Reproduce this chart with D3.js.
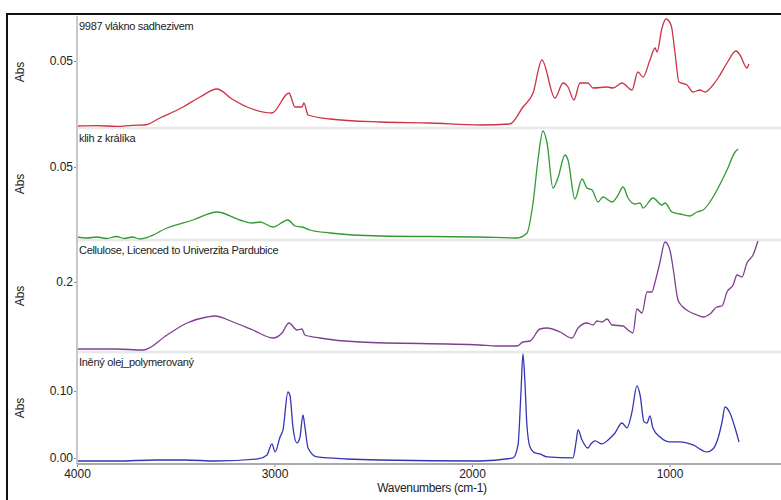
<!DOCTYPE html>
<html lang="cs">
<head>
  <meta charset="UTF-8">
  <title>FTIR spektra</title>
  <script src="https://d3js.org/d3.v7.min.js"></script>
  <style>
    body { margin: 0; background: #fff; font-family: "Liberation Sans", Arial, sans-serif; }
    .tick text { font-size: 12px; fill: #222; }
  </style>
</head>
<body>
  <div id="chart"></div>

  <script>
    // [wavenumber cm-1, Abs]
    const vlakno = [
      [4000,0.0305],[3900,0.0306],[3800,0.0304],[3720,0.0307],[3656,0.0308],[3580,0.0329],[3463,0.0362],
      [3377,0.0392],[3291,0.0416],[3215,0.0386],[3139,0.0362],[3013,0.0344],[2927,0.0404],[2896,0.0362],
      [2861,0.0362],[2851,0.0374],[2830,0.0338],[2719,0.0326],[2466,0.0317],[2213,0.0314],[1960,0.0308],
      [1808,0.0311],[1742,0.0362],[1691,0.0404],[1646,0.0503],[1580,0.0389],[1539,0.0434],[1514,0.0422],
      [1484,0.0383],[1453,0.0434],[1413,0.0434],[1387,0.0419],[1316,0.0422],[1286,0.0419],[1241,0.0434],
      [1190,0.0413],[1160,0.0467],[1134,0.0452],[1099,0.0503],[1073,0.0539],[1063,0.0527],[1038,0.0599],
      [1018,0.0626],[992,0.0608],[972,0.0524],[952,0.0437],[911,0.0428],[881,0.0407],[846,0.0413],
      [820,0.0407],[780,0.0428],[754,0.0449],[709,0.0494],[663,0.053],[643,0.0518],[608,0.0479],[598,0.0491]
    ];
    const klih = [
      [4000,0.022],[3950,0.0216],[3900,0.022],[3850,0.0214],[3800,0.0222],[3760,0.0214],[3720,0.022],
      [3680,0.0212],[3646,0.0218],[3544,0.0256],[3413,0.0288],
      [3291,0.032],[3175,0.0288],[3114,0.0276],[3073,0.028],[3008,0.026],[2932,0.0288],[2896,0.0264],
      [2861,0.026],[2820,0.0248],[2719,0.0236],[2466,0.0224],[1960,0.022],[1772,0.0216],[1722,0.0236],
      [1691,0.0356],[1666,0.0528],[1641,0.0644],[1620,0.0596],[1590,0.0416],[1565,0.0456],[1529,0.0548],
      [1514,0.0528],[1479,0.0372],[1443,0.0452],[1418,0.0416],[1392,0.0408],[1362,0.036],[1337,0.038],
      [1291,0.036],[1266,0.038],[1235,0.042],[1210,0.0376],[1175,0.0352],[1149,0.0356],[1134,0.0336],
      [1084,0.0376],[1038,0.0348],[1023,0.0356],[987,0.032],[947,0.0312],[896,0.0304],[861,0.032],
      [830,0.0328],[795,0.036],[754,0.0416],[709,0.0488],[668,0.056],[653,0.0572]
    ];
    const celuloza = [
      [4000,0.066],[3800,0.066],[3666,0.064],[3544,0.094],[3443,0.118],[3342,0.13],[3301,0.132],
      [3210,0.12],[3109,0.104],[3008,0.088],[2962,0.098],[2927,0.118],[2886,0.104],[2861,0.106],
      [2846,0.094],[2770,0.088],[2567,0.08],[1960,0.074],[1873,0.072],[1772,0.072],[1742,0.08],
      [1706,0.082],[1656,0.106],[1620,0.108],[1554,0.1],[1494,0.088],[1463,0.108],[1418,0.118],
      [1387,0.114],[1367,0.122],[1342,0.12],[1316,0.126],[1291,0.114],[1235,0.112],[1210,0.104],
      [1185,0.098],[1165,0.146],[1139,0.138],[1114,0.18],[1089,0.18],[1073,0.2],[1048,0.24],
      [1023,0.28],[998,0.264],[982,0.228],[957,0.164],[937,0.152],[896,0.14],[861,0.134],[830,0.13],
      [795,0.136],[760,0.15],[734,0.152],[709,0.18],[678,0.194],[658,0.214],[633,0.21],[608,0.238],
      [577,0.254],[552,0.282]
    ];
    const olej = [
      [4000,-0.0045],[3800,-0.0045],[3600,-0.003],[3450,-0.003],[3300,-0.0045],[3084,-0.0015],
      [3038,0.0045],[3013,0.0209],[2997,0.009],[2972,0.0313],[2957,0.0418],[2932,0.0985],[2922,0.094],
      [2906,0.0448],[2886,0.0224],[2871,0.0313],[2856,0.0642],[2846,0.0463],[2830,0.0149],[2785,0.0015],
      [2633,-0.0015],[2466,-0.003],[1960,-0.0045],[1792,0],[1767,0.0194],[1752,0.0985],[1742,0.1552],
      [1732,0.1134],[1722,0.0493],[1706,0.0164],[1681,0.0075],[1656,0.006],[1620,0.0015],[1489,0],
      [1473,0.0239],[1463,0.0418],[1443,0.0269],[1413,0.0149],[1398,0.0209],[1377,0.0254],[1342,0.0209],
      [1311,0.0269],[1276,0.0373],[1241,0.0522],[1215,0.0448],[1190,0.0687],[1165,0.1075],[1149,0.094],
      [1129,0.0537],[1114,0.0522],[1099,0.0627],[1084,0.0448],[1048,0.0313],[998,0.0239],[947,0.0239],
      [881,0.0194],[810,0.009],[780,0.0134],[754,0.0299],[734,0.0537],[719,0.0761],[694,0.0672],
      [668,0.0448],[648,0.0239]
    ];

    const names = ["9987 vlákno sadhezivem", "klih z králíka",
                   "Cellulose, Licenced to Univerzita Pardubice", "Iněný olej_polymerovaný"];
    const series = [vlakno, klih, celuloza, olej];
    const colors = ["#cc3344", "#339933", "#7f3f8f", "#3535b5"];
    const yDomains = [[0.0299, 0.0635], [0.0208, 0.0656], [0.06, 0.284], [-0.009, 0.1582]];
    const yTicks = [[0.05], [0.05], [0.2], [0.00, 0.10]];
    const yTickFmt = [".2f", ".2f", ".1f", ".2f"];
    const xTicks = [4000, 3000, 2000, 1000];

    const W = 781, H = 500;
    const m = {left: 77, right: 787, top: 16};
    const panelH = 112;
    const plotBottom = m.top + panelH * 4;

    const svg = d3.select("#chart").append("svg")
      .attr("width", W).attr("height", H);

    // outer frame
    svg.append("rect")
      .attr("x", 7).attr("y", 14).attr("width", 800).attr("height", 520)
      .attr("fill", "none").attr("stroke", "#111").attr("stroke-width", 2);

    svg.append("defs").append("clipPath").attr("id", "clip")
      .append("rect").attr("x", m.left).attr("y", m.top)
      .attr("width", m.right - m.left).attr("height", plotBottom - m.top);

    const x = d3.scaleLinear().domain([4000, 0]).range([m.left, m.left + 4000 * 0.1975]);

    series.forEach((data, i) => {
      const y0 = m.top + i * panelH;
      const y = d3.scaleLinear().domain(yDomains[i]).range([y0 + panelH, y0]);

      // panel separator
      if (i < 3) {
        svg.append("line")
          .attr("x1", m.left).attr("x2", W).attr("y1", y0 + panelH).attr("y2", y0 + panelH)
          .attr("stroke", "#e8e8e8").attr("stroke-width", 2.5);
      }

      const ax = svg.append("g")
        .attr("transform", `translate(${m.left},0)`)
        .call(d3.axisLeft(y).tickValues(yTicks[i]).tickFormat(d3.format(yTickFmt[i])).tickSize(3).tickPadding(1));
      ax.select(".domain").remove();
      ax.selectAll(".tick line").attr("stroke", "#888");

      svg.append("text")
        .attr("transform", `translate(24,${y0 + panelH / 2}) rotate(-90)`)
        .attr("text-anchor", "middle")
        .style("font-size", "12px").style("fill", "#222")
        .text("Abs");

      svg.append("text")
        .attr("x", m.left + 2).attr("y", y0 + 14)
        .style("font-size", "11px").style("fill", "#222")
        .style("letter-spacing", "-0.3px")
        .text(names[i]);

      const line = d3.line()
        .x(d => x(d[0]))
        .y(d => y(d[1]))
        .curve(d3.curveMonotoneX);

      svg.append("path")
        .datum(data)
        .attr("clip-path", "url(#clip)")
        .attr("fill", "none")
        .attr("stroke", colors[i])
        .attr("stroke-width", 1.3)
        .attr("d", line);
    });

    // left border of plot
    svg.append("line")
      .attr("x1", m.left).attr("x2", m.left).attr("y1", m.top).attr("y2", plotBottom)
      .attr("stroke", "#c8c8c8").attr("stroke-width", 2);

    const xa = svg.append("g")
      .attr("transform", `translate(0,${plotBottom})`)
      .call(d3.axisBottom(x).tickValues(xTicks).tickFormat(d3.format("d")).tickSize(3).tickPadding(2));
    xa.select(".domain").remove();
    xa.selectAll(".tick line").attr("stroke", "#888");

    svg.append("line")
      .attr("x1", m.left).attr("x2", W).attr("y1", plotBottom).attr("y2", plotBottom)
      .attr("stroke", "#aaa").attr("stroke-width", 2);

    svg.append("text")
      .attr("x", (m.left + m.right) / 2).attr("y", 492)
      .attr("text-anchor", "middle")
      .style("font-size", "12px").style("fill", "#222")
      .style("letter-spacing", "-0.3px")
      .text("Wavenumbers (cm-1)");
  </script>
</body>
</html>
